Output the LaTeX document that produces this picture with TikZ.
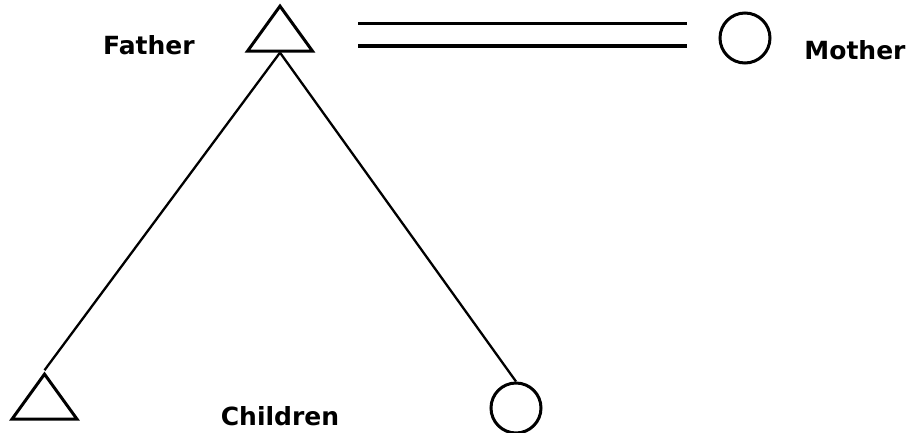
\documentclass[tikz,border=0pt]{standalone}
\usepackage{fontspec}
\setmainfont{DejaVu Sans}
\usetikzlibrary{shapes.geometric}

\begin{document}
\begin{tikzpicture}[x=1pt,y=-1pt]
    \tikzset{male/.style = {shape=isosceles triangle,draw,line width=3pt,shape border rotate=90,isosceles triangle stretches,minimum width=65pt,minimum height=45pt,inner sep=0pt}}
    \tikzset{female/.style = {shape=circle,draw,line width=3pt,minimum size=50pt,inner sep=0pt}}
    \tikzset{label/.style = {shape=rectangle,draw=none,font=\fontsize{25}{28}\selectfont\bfseries}}
    \tikzset{edge/.style = {-,line width=2.3pt}}
    \tikzset{wed/.style = {-,line width=3.5pt,double distance=19pt}}

    \useasboundingbox (0,0) rectangle (914,432);

    % vertices
    \node[male] (father) at (280,34.5) {};
    \node[female] (mother) at (745,38) {};
    \node[male] (son) at (44.5,402.5) {};
    \node[female] (daughter) at (516,408) {};

    \coordinate (wedl) at (358,34.5);
    \coordinate (wedr) at (687,34.5);

    \node[label] (fl) at (149,45) {Father};
    \node[label] (ml) at (855,50) {Mother};
    \node[label] (cl) at (280,416) {Children};

    %edges
    \draw[wed] (wedl) to (wedr);
    \draw[edge] (father.south) to (son.apex);
    \draw[edge] (father.south) to (daughter.north);
\end{tikzpicture}
\end{document}
